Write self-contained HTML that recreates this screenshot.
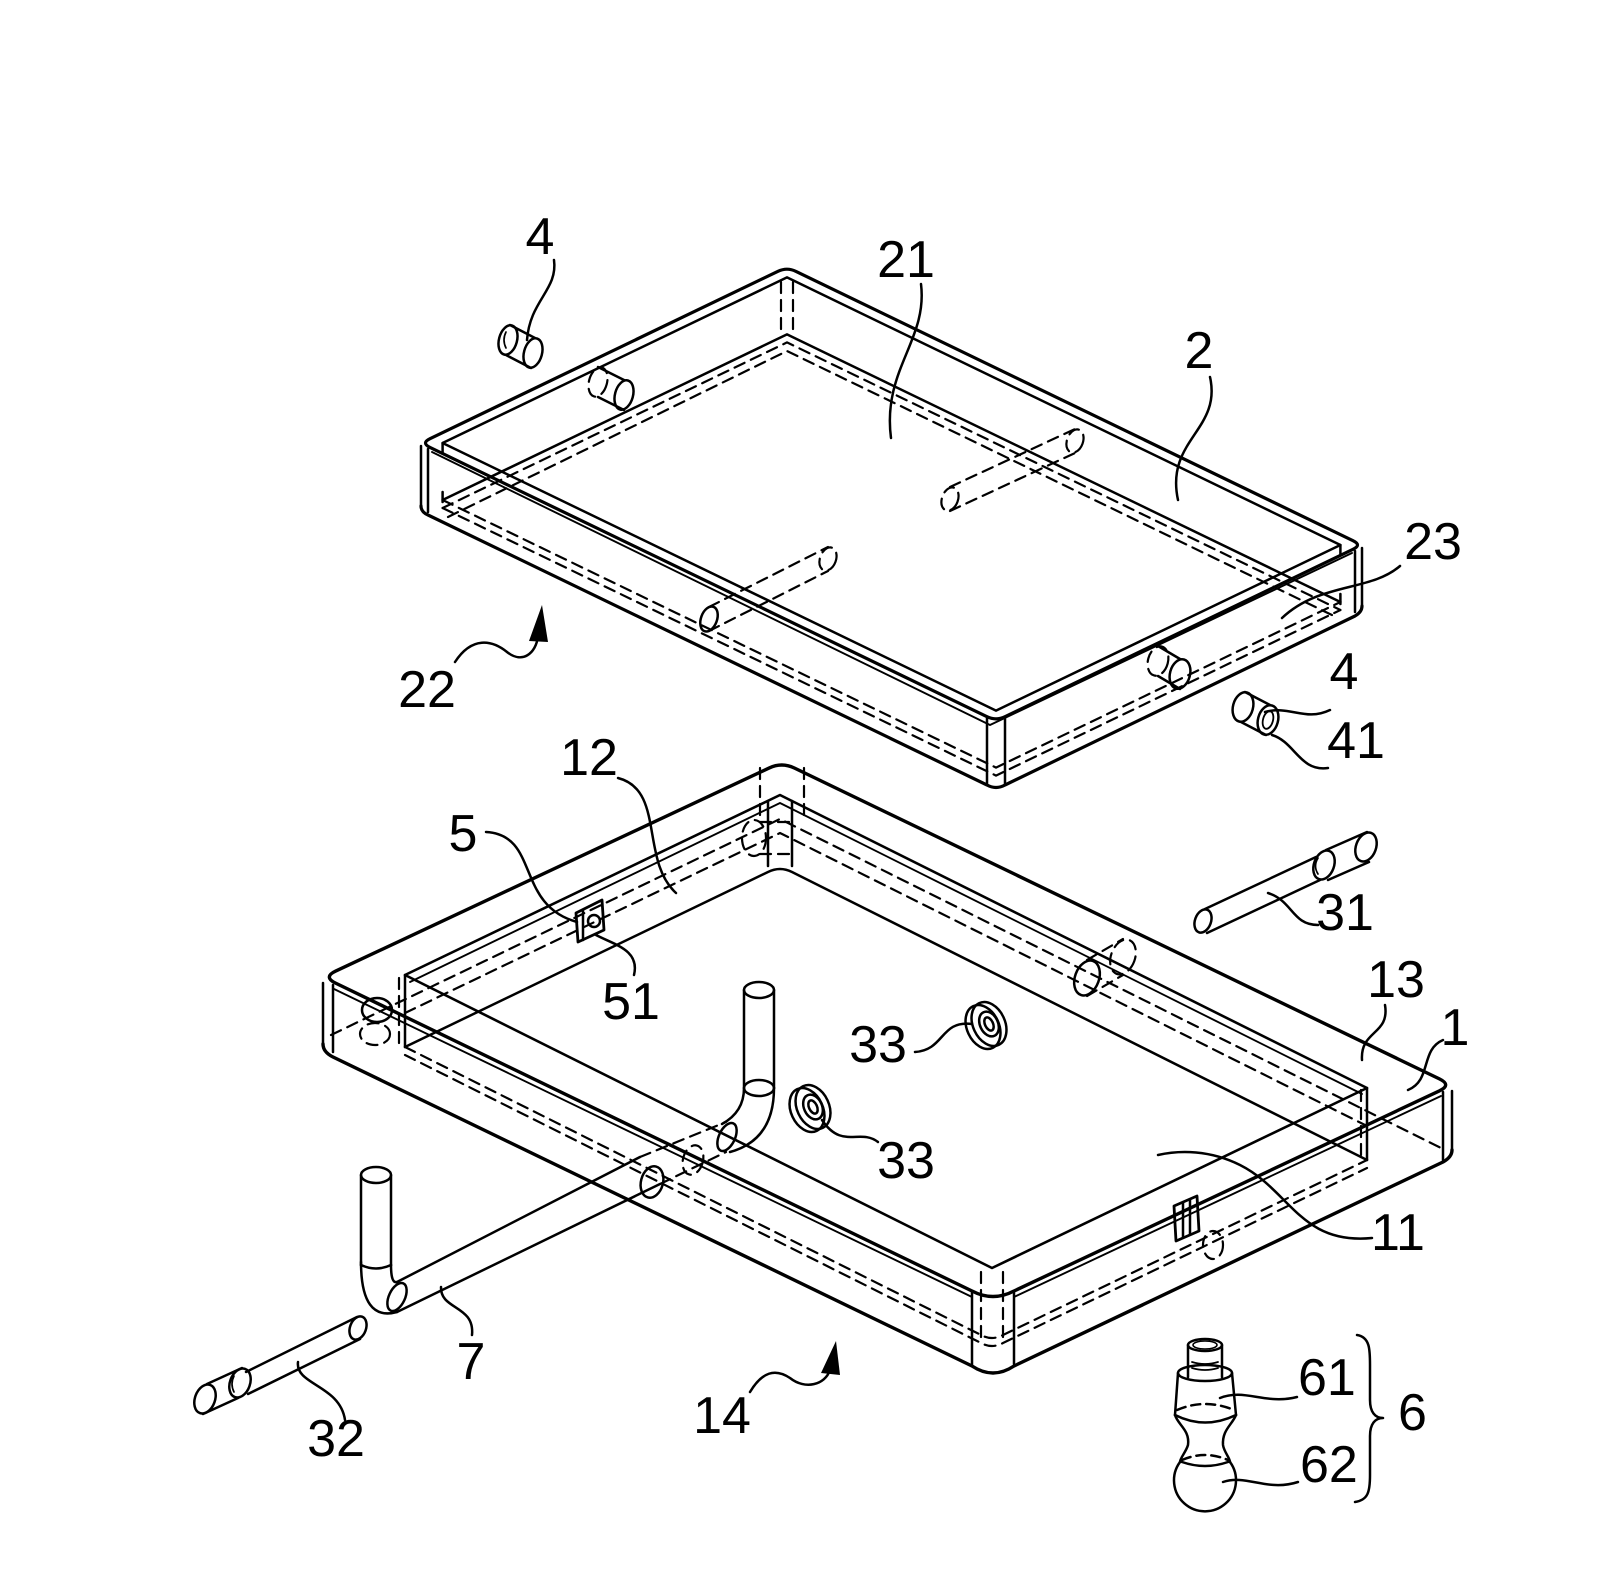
<!DOCTYPE html>
<html>
<head>
<meta charset="utf-8">
<style>
  html,body{margin:0;padding:0;background:#fff;}
  svg{display:block;}
  text{font-family:"Liberation Sans",Arial,sans-serif;font-size:52px;fill:#000;}
</style>
</head>
<body>
<svg width="1619" height="1587" viewBox="0 0 1619 1587" xmlns="http://www.w3.org/2000/svg">
<rect width="1619" height="1587" fill="#fff"/>
<g fill="none" stroke="#000" stroke-width="2.5" stroke-linecap="round" stroke-linejoin="round">

<!-- ================= TOP TRAY (2) ================= -->
<path stroke-width="3.2" d="M430,438.7 L778,271.3 Q787,267 796,271.4 L1353,540.7 Q1362,545 1353,549.3 L1005,716.7 Q996,721 987,716.7 L430,447.4 Q421,443 430,438.7 Z"/>
<path d="M442.6,443 L787,277.4 L1340.4,545 L996,710.6 Z"/>
<path stroke-width="1.9" d="M432,452 L990,725 L1352,553"/>
<path d="M421,446 L421,506 M428,449 L428,512 M987,718 L987,784 M1005,718 L1005,784 M1362,548 L1362,606 M1355,551 L1355,612"/>
<path stroke-width="3.2" d="M421,506 Q421,512 428,515 L987,785 Q996,790 1005,785 L1355,616 Q1362,612 1362,606"/>
<path d="M442.6,500 L787,334.4 L1340.4,602"/>
<g stroke-dasharray="11 7" stroke-width="2.2">
<path d="M442.6,508 L787,342.4 L1340.4,610"/>
<path d="M448,517 L787,351 L1334,616"/>
<path d="M442.6,500 L996,767.6 L1340.4,602"/>
<path d="M442.6,508 L996,775.6 L1340.4,610"/>
<path d="M781,282 L781,334 M793,282 L793,334"/>
<path d="M709,607 L828,547 M709,631 L828,571"/>
<ellipse cx="828" cy="559" rx="8" ry="12" transform="rotate(20 828 559)"/>
<path d="M950,487 L1075,429 M950,511 L1075,453"/>
<ellipse cx="950" cy="499" rx="8" ry="12" transform="rotate(20 950 499)"/>
<ellipse cx="1075" cy="441" rx="8" ry="12" transform="rotate(20 1075 441)"/>
<ellipse cx="598" cy="382" rx="9" ry="15" transform="rotate(15 598 382)"/>
<ellipse cx="1158" cy="661" rx="10" ry="15" transform="rotate(15 1158 661)"/>
</g>
<path d="M442.6,443 L442.6,453 M442.6,492 L442.6,502 M1340.4,545 L1340.4,555 M1340.4,594 L1340.4,604"/>
<ellipse cx="709" cy="619" rx="8" ry="13" transform="rotate(20 709 619)"/>
<!-- hole top-left wall -->
<path d="M598,367 L624,380 M598,397 L624,410"/>
<ellipse cx="624" cy="395" rx="9" ry="15" transform="rotate(15 624 395)"/>
<!-- pin 4 top-left -->
<ellipse cx="508" cy="340" rx="9" ry="15" transform="rotate(15 508 340)"/>
<path d="M506,332 Q502,340 506,348" stroke-width="1.7"/>
<path d="M510,325 L535,338 M506,355 L531,368"/>
<ellipse cx="533" cy="353" rx="9" ry="15" transform="rotate(15 533 353)"/>
<!-- hole right wall -->
<path d="M1158,646 L1180,659 M1158,676 L1180,689"/>
<ellipse cx="1180" cy="674" rx="10" ry="15" transform="rotate(15 1180 674)"/>
<!-- pin 4 right -->
<ellipse cx="1243" cy="707" rx="10" ry="15" transform="rotate(15 1243 707)"/>
<path d="M1245,692 L1270,705 M1241,722 L1266,735"/>
<ellipse cx="1268" cy="720" rx="10" ry="15" transform="rotate(15 1268 720)"/>
<ellipse cx="1268" cy="720" rx="5" ry="9" transform="rotate(15 1268 720)" stroke-width="1.8"/>

<!-- ================= LOWER TRAY (1) ================= -->
<path stroke-width="3.4" d="M335.7,971.1 L769.3,767.9 Q782,762 794.6,768.1 L1439.4,1078.9 Q1452,1085 1439.3,1090.9 L1014,1291 Q993,1302 972,1291 L335.6,983.1 Q323,977 335.7,971.1 Z"/>
<path stroke-width="1.9" d="M334,989 L972,1297 M1014,1297 L1441,1096"/>
<path d="M323,983 L323,1044 M333,985 L333,1052 M1452,1091 L1452,1150 M1443,1092 L1443,1160 M972,1292 L972,1366 M1014,1292 L1014,1364"/>
<path stroke-width="3.4" d="M323,1044 Q323,1052 333,1057 L972,1366 Q993,1380 1014,1366 L1443,1162 Q1452,1157 1452,1150"/>
<path stroke-width="2.6" d="M405,975 L780,795 L1367,1088 L992,1268 Z"/>
<path stroke-width="1.9" d="M410,982 L780,803 L1362,1094"/>
<path d="M405,975 L405,1047 M768,801 L768,866 M792,801 L792,866 M1367,1088 L1367,1160"/>
<path d="M405,1047 L768,872 Q780,866 792,872 L1367,1160"/>
<g stroke-dasharray="11 7" stroke-width="2.2">
<path d="M399,978 L399,1044 M1361,1090 L1361,1156 M981,1272 L981,1340 M1003,1272 L1003,1340"/>
<path d="M405,1047 L981,1335 Q992,1341 1003,1335 L1367,1160"/>
<path d="M405,1055 L981,1343 Q992,1349 1003,1343 L1367,1168"/>
<path d="M331,1035 L780,819 L1445,1150"/>
<path d="M405,1013 L780,833 L1367,1126"/>
<path d="M760,768 L760,817 M804,768 L804,817"/>
<ellipse cx="754" cy="838" rx="12" ry="18"/>
<path d="M760,822 L790,822 M760,854 L790,854"/>
<ellipse cx="375" cy="1034" rx="15" ry="11"/>
<ellipse cx="1123" cy="957" rx="12" ry="18" transform="rotate(20 1123 957)"/>
<path d="M1087,960 L1123,939 M1087,996 L1123,975"/>
<ellipse cx="1213" cy="1245" rx="10" ry="14"/>
<ellipse cx="693" cy="1160" rx="10" ry="15" transform="rotate(15 693 1160)"/>
<path d="M640,1157 L726,1122 M660,1184 L726,1152"/>
</g>
<ellipse cx="377" cy="1010" rx="15" ry="12"/>
<ellipse cx="1087" cy="978" rx="12" ry="18" transform="rotate(20 1087 978)"/>
<!-- latch right -->
<path stroke-width="2.8" d="M1174,1206 L1197,1196 L1199,1231 L1176,1241 Z"/>
<path d="M1183,1203 L1183,1237 M1190,1200 L1190,1234"/>
<!-- square 5 -->
<path stroke-width="2.8" d="M576,913 L602,900 L604,930 L578,942 Z"/>
<path d="M583,911 L583,940"/>
<circle cx="594" cy="921" r="6"/>
<!-- pipe wall hole -->
<ellipse cx="652" cy="1182" rx="11" ry="16" transform="rotate(15 652 1182)"/>

<!-- ================= PIPE 7 ================= -->
<path d="M744,990 L744,1088 M774,990 L774,1088"/>
<ellipse cx="759" cy="990" rx="15" ry="8"/>
<ellipse cx="759" cy="1088" rx="15" ry="8"/>
<path d="M774,1088 Q774,1140 730,1152 M744,1088 Q744,1112 722,1124"/>
<ellipse cx="727" cy="1137" rx="8" ry="15" transform="rotate(25 727 1137)"/>
<path d="M397,1282 L640,1157 M397,1312 L660,1184"/>
<path d="M361,1175 L361,1265 M391,1175 L391,1265"/>
<ellipse cx="376" cy="1175" rx="15" ry="8"/>
<path d="M361,1265 Q376,1272 391,1265"/>
<path d="M361,1262 Q361,1322 397,1312 M391,1265 Q391,1284 397,1282"/>
<ellipse cx="397" cy="1297" rx="8" ry="15" transform="rotate(25 397 1297)"/>

<!-- ================= WASHERS 33 ================= -->
<ellipse cx="983" cy="1027" rx="16" ry="23" transform="rotate(-25 983 1027)"/>
<ellipse cx="989" cy="1024" rx="16" ry="23" transform="rotate(-25 989 1024)"/>
<ellipse cx="989" cy="1024" rx="9" ry="13" transform="rotate(-25 989 1024)"/>
<ellipse cx="989" cy="1024" rx="4" ry="7" transform="rotate(-25 989 1024)"/>
<ellipse cx="807" cy="1110" rx="16" ry="23" transform="rotate(-25 807 1110)"/>
<ellipse cx="813" cy="1107" rx="16" ry="23" transform="rotate(-25 813 1107)"/>
<ellipse cx="813" cy="1107" rx="9" ry="13" transform="rotate(-25 813 1107)"/>
<ellipse cx="813" cy="1107" rx="4" ry="7" transform="rotate(-25 813 1107)"/>

<!-- ================= PIN 31 ================= -->
<ellipse cx="1203" cy="921" rx="8" ry="12" transform="rotate(20 1203 921)"/>
<path d="M1205,909 L1316,857 M1207,933 L1320,880"/>
<ellipse cx="1324" cy="865" rx="10" ry="15" transform="rotate(20 1324 865)"/>
<path d="M1318,858 Q1313,866 1318,874" stroke-width="1.7"/>
<path d="M1326,850 L1367,832 M1328,880 L1369,862"/>
<ellipse cx="1366" cy="847" rx="10" ry="15" transform="rotate(20 1366 847)"/>

<!-- ================= PIN 32 ================= -->
<ellipse cx="205" cy="1399" rx="10" ry="15" transform="rotate(20 205 1399)"/>
<path d="M207,1384 L242,1368 M203,1414 L238,1398"/>
<ellipse cx="240" cy="1383" rx="10" ry="15" transform="rotate(20 240 1383)"/>
<path d="M234,1376 Q230,1384 234,1392" stroke-width="1.7"/>
<path d="M246,1372 L357,1317 M248,1394 L360,1339"/>
<ellipse cx="358" cy="1328" rx="8" ry="12" transform="rotate(20 358 1328)"/>

<!-- ================= COMPONENT 6 ================= -->
<path d="M1188,1345 L1188,1377 M1222,1345 L1222,1377"/>
<ellipse cx="1205" cy="1345" rx="17" ry="6"/>
<ellipse cx="1205" cy="1345" rx="12" ry="4" stroke-width="1.6"/>
<path stroke-width="1.8" d="M1192,1362 Q1205,1366 1218,1362 M1192,1368 Q1205,1372 1218,1368"/>
<ellipse cx="1205" cy="1373" rx="27" ry="8"/>
<path d="M1178,1373 L1175,1415 M1232,1373 L1236,1415"/>
<path stroke-dasharray="9 6" d="M1177,1410 Q1205,1398 1234,1410"/>
<path d="M1175,1415 Q1205,1430 1236,1415"/>
<path d="M1175,1415 C1178,1425 1190,1430 1188,1445 C1186,1452 1180,1458 1180,1462 M1236,1415 C1232,1425 1222,1430 1223,1445 C1224,1452 1230,1458 1230,1462"/>
<path d="M1180,1462 A31,31 0 1 0 1230,1462"/>
<path stroke-dasharray="9 6" d="M1182,1460 Q1205,1450 1228,1460"/>
<path d="M1182,1462 Q1205,1470 1228,1462"/>
<path stroke-width="2.5" d="M1357,1335 C1370,1337 1370,1350 1370,1365 L1370,1400 C1370,1412 1375,1418 1383,1418 C1375,1418 1370,1424 1370,1436 L1370,1475 C1370,1492 1368,1500 1355,1502"/>

<!-- ================= LEADERS ================= -->
<path d="M554,260 C558,290 530,300 527,340"/>
<path d="M921,284 C928,340 882,370 891,438"/>
<path d="M1210,377 C1222,430 1165,440 1178,500"/>
<path d="M1400,566 C1370,592 1320,582 1282,618"/>
<path d="M1330,710 C1305,722 1290,705 1265,712"/>
<path d="M1328,768 C1300,772 1295,742 1272,735"/>
<path d="M455,662 C472,636 492,640 507,652 C522,664 536,654 538,636"/>
<path d="M618,778 C665,790 640,860 676,893"/>
<path d="M486,832 C540,835 515,905 577,922"/>
<path d="M634,975 C640,950 615,945 596,935"/>
<path d="M1268,893 C1293,901 1292,925 1318,925"/>
<path d="M1385,1005 C1390,1035 1360,1030 1362,1060"/>
<path d="M1443,1040 C1420,1050 1432,1080 1408,1090"/>
<path d="M1372,1238 C1300,1245 1290,1190 1240,1165 C1210,1150 1180,1150 1158,1155"/>
<path d="M915,1052 C945,1050 940,1020 972,1024"/>
<path d="M822,1120 C842,1150 860,1128 878,1142"/>
<path d="M441,1287 C440,1310 475,1305 472,1335"/>
<path d="M750,1392 C762,1372 775,1368 790,1378 C805,1390 825,1385 830,1370"/>
<path d="M298,1362 C295,1385 340,1385 345,1420"/>
<path d="M1220,1398 C1245,1388 1265,1405 1297,1397"/>
<path d="M1223,1482 C1247,1474 1267,1492 1298,1482"/>
</g>
<!-- arrowheads -->
<polygon points="529,641 548,642 542,605" fill="#000"/>
<polygon points="821,1373 840,1375 836,1341" fill="#000"/>

<!-- ================= LABELS ================= -->
<g text-anchor="middle">
<text x="540" y="254">4</text>
<text x="906" y="277">21</text>
<text x="1199" y="368">2</text>
<text x="1433" y="559">23</text>
<text x="427" y="707">22</text>
<text x="1344" y="689">4</text>
<text x="1356" y="758">41</text>
<text x="589" y="775">12</text>
<text x="463" y="851">5</text>
<text x="631" y="1019">51</text>
<text x="1345" y="930">31</text>
<text x="1396" y="997">13</text>
<text x="1455" y="1045">1</text>
<text x="878" y="1062">33</text>
<text x="906" y="1178">33</text>
<text x="1398" y="1250">11</text>
<text x="471" y="1379">7</text>
<text x="722" y="1433">14</text>
<text x="336" y="1456">32</text>
</g>
<text x="1298" y="1395">61</text>
<text x="1300" y="1482">62</text>
<text x="1398" y="1430">6</text>
</svg>
</body>
</html>
